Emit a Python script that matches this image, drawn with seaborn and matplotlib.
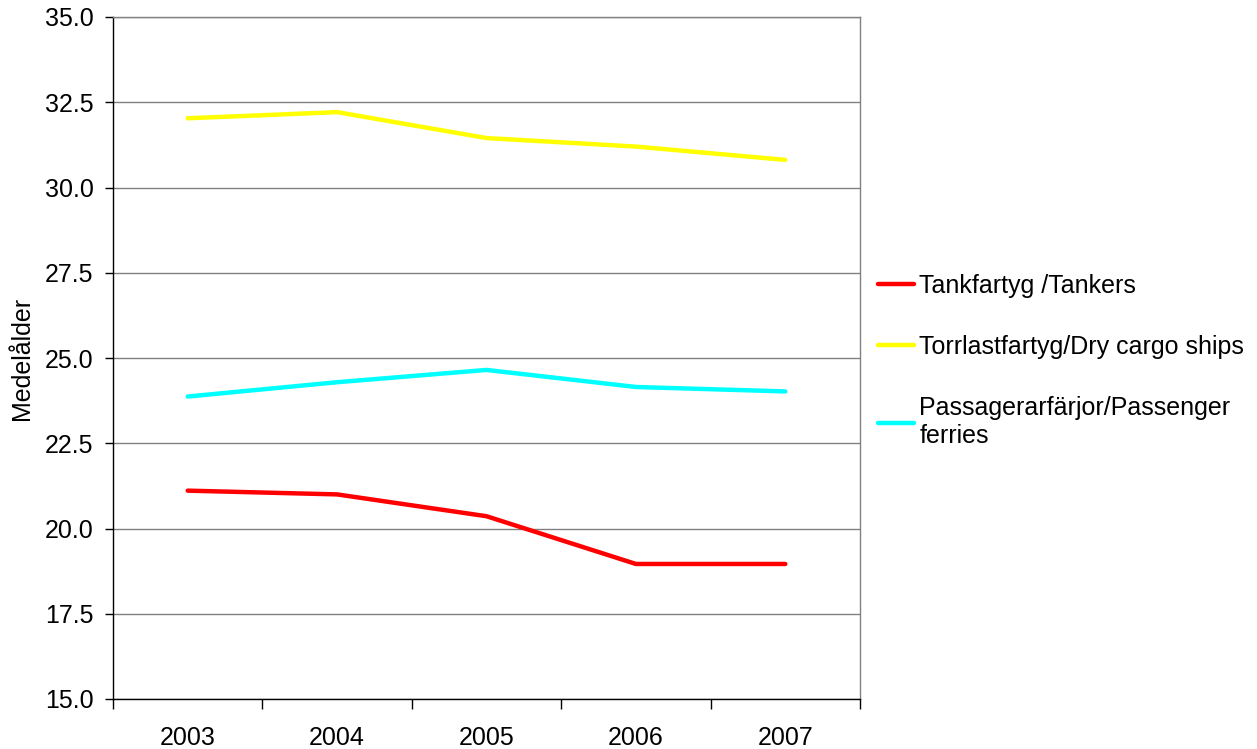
import pandas as pd
import matplotlib
matplotlib.use('Agg')
import matplotlib.pyplot as plt
import seaborn as sns

# --- DATA ---
years = ['2003', '2004', '2005', '2006', '2007']
tankers = [21.11, 21.00, 20.36, 18.96, 18.96]
dry_cargo = [32.03, 32.21, 31.45, 31.20, 30.81]
passenger = [23.87, 24.29, 24.65, 24.15, 24.02]

series_names = ['Tankfartyg /Tankers',
                'Torrlastfartyg/Dry cargo ships',
                'Passagerarfärjor/Passenger\nferries']
series_values = [tankers, dry_cargo, passenger]
colors = ['#ff0000', '#ffff00', '#00ffff']

# long-form table for seaborn
rows = []
for name, vals in zip(series_names, series_values):
    for i, v in enumerate(vals):
        rows.append({'pos': i, 'year': years[i], 'serie': name, 'value': v})
df = pd.DataFrame(rows)

sns.set_style('white')
plt.rcParams['font.family'] = ['Liberation Sans', 'DejaVu Sans']
plt.rcParams['text.color'] = 'black'
plt.rcParams['axes.labelcolor'] = 'black'
plt.rcParams['xtick.color'] = 'black'
plt.rcParams['ytick.color'] = 'black'
fs = 18

fig = plt.figure(figsize=(12.57, 7.49), dpi=100)
ax = fig.add_axes([113 / 1257, 50 / 749, 747 / 1257, 682 / 749])

sns.lineplot(data=df, x='pos', y='value', hue='serie', hue_order=series_names,
             palette=colors, linewidth=3.2, ax=ax, legend=True)

ax.set_xlim(-0.5, len(years) - 0.5)
ax.set_ylim(15, 35)
ax.set_yticks([15 + 2.5 * k for k in range(9)])
ax.set_yticklabels([f'{15 + 2.5 * k:.1f}' for k in range(9)])

# category boundaries get tick marks, centres get the labels
ax.set_xticks([i - 0.5 for i in range(len(years) + 1)])
ax.set_xticklabels([])
ax.set_xticks(range(len(years)), minor=True)
ax.set_xticklabels(years, minor=True)
ax.tick_params(axis='x', which='major', bottom=True, direction='out', length=7, width=1)
ax.tick_params(axis='x', which='minor', bottom=True, length=0, pad=19.5, labelsize=fs)
ax.tick_params(axis='y', left=True, direction='out', length=6, width=1, pad=8, labelsize=fs)

ax.yaxis.grid(True, color='#808080', linewidth=1)
ax.set_axisbelow(True)
for side in ['left', 'bottom']:
    ax.spines[side].set_color('black')
    ax.spines[side].set_linewidth(1)
for side in ['top', 'right']:
    ax.spines[side].set_color('#808080')
    ax.spines[side].set_linewidth(1)
    ax.spines[side].set_visible(True)

ax.set_xlabel('')
ax.set_ylabel('Medelålder', fontsize=fs, labelpad=8)

handles, labels = ax.get_legend_handles_labels()
ax.legend(handles, labels, loc='upper left', bbox_to_anchor=(878 / 1257, 1 - 274 / 749),
          bbox_transform=fig.transFigure, frameon=False, fontsize=fs,
          handlelength=1.45, handletextpad=0.2, labelspacing=1.48, borderpad=0,
          borderaxespad=0)

fig.savefig('out.png', dpi=100)
